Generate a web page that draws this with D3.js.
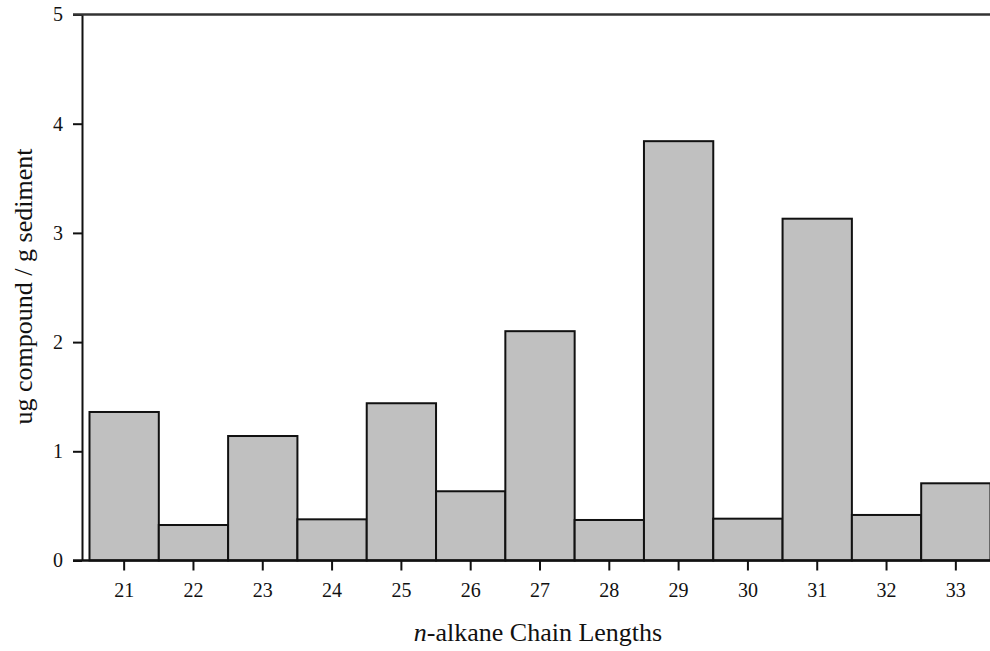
<!DOCTYPE html>
<html>
<head>
<meta charset="utf-8">
<script src="https://cdn.jsdelivr.net/npm/d3@7"></script>
<style>
  body { margin: 0; background: #fff; }
  svg text { font-family: "Liberation Serif", "Times New Roman", serif; fill: #111; }
</style>
</head>
<body>
<svg id="chart" width="990" height="651"></svg>
<script>
// chain lengths and concentrations (ug / g sediment)
const chains = ['21', '22', '23', '24', '25', '26', '27', '28', '29', '30', '31', '32', '33']
const values = [1.36, 0.325, 1.14, 0.377, 1.44, 0.634, 2.10, 0.371, 3.84, 0.383, 3.13, 0.417, 0.707]
const yTicks = [0, 1, 2, 3, 4, 5]

const svg = d3.select('#chart')
const axisX = 82
const plotTop = 14.5
const plotBottom = 560.5
const plotRight = 990
const barColor = '#c0c0c0'

const xScale = d3.scaleBand()
  .domain(chains)
  .range([89.5, 990.5])
  .padding(0)

const yScale = d3.scaleLinear()
  .domain([0, 5])
  .range([plotBottom, plotTop])

// bars
svg.append('g')
  .selectAll('rect')
  .data(values)
  .enter()
  .append('rect')
    .attr('x', (d, i) => xScale(chains[i]))
    .attr('y', d => yScale(d))
    .attr('width', xScale.bandwidth())
    .attr('height', d => yScale(0) - yScale(d))
    .attr('fill', barColor)
    .style('stroke', '#111')
    .style('stroke-width', 2)

// y axis
const yAxis = d3.axisLeft(yScale)
  .tickValues(yTicks)
  .tickFormat(d3.format('d'))
  .tickSize(9)
  .tickSizeOuter(0)
  .tickPadding(10)

const yG = svg.append('g')
  .attr('transform', `translate(${axisX}, 0)`)
  .call(yAxis)
yG.selectAll('text').style('font-size', '20px').style('font-family', '"Liberation Serif", serif')
yG.selectAll('line').style('stroke', '#111').style('stroke-width', 2)
yG.select('path.domain').style('stroke', '#111').style('stroke-width', 2)

// x axis
const xAxis = d3.axisBottom(xScale)
  .tickSize(10)
  .tickSizeOuter(0)
  .tickPadding(12)

const xG = svg.append('g')
  .attr('transform', `translate(0, ${plotBottom})`)
  .call(xAxis)
xG.select('path.domain').remove()
xG.selectAll('text').style('font-size', '20px').style('font-family', '"Liberation Serif", serif')
xG.selectAll('line').style('stroke', '#111').style('stroke-width', 2)

// baseline and top frame line
svg.append('line')
  .attr('x1', axisX - 9)
  .attr('x2', plotRight)
  .attr('y1', plotBottom)
  .attr('y2', plotBottom)
  .style('stroke', '#111')
  .style('stroke-width', 2.5)

svg.append('line')
  .attr('x1', axisX - 9)
  .attr('x2', plotRight)
  .attr('y1', plotTop)
  .attr('y2', plotTop)
  .style('stroke', '#333')
  .style('stroke-width', 2.5)

// axis titles
const xTitle = svg.append('text')
  .attr('x', 538)
  .attr('y', 641)
  .attr('text-anchor', 'middle')
  .style('font-size', '26px')
xTitle.append('tspan').style('font-style', 'italic').text('n')
xTitle.append('tspan').text('-alkane Chain Lengths')

svg.append('text')
  .attr('transform', `translate(32, 286.5) rotate(-90)`)
  .attr('text-anchor', 'middle')
  .style('font-size', '26px')
  .text('ug compound / g sediment')
</script>
</body>
</html>
